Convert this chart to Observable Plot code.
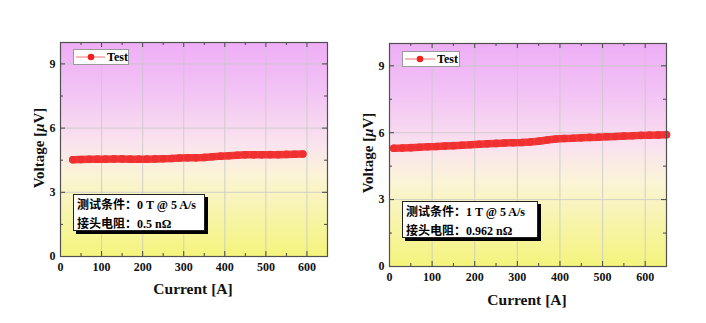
<!DOCTYPE html>
<html><head><meta charset="utf-8">
<script src="https://cdn.jsdelivr.net/npm/d3@7"></script>
<script src="https://cdn.jsdelivr.net/npm/@observablehq/plot@0.6"></script>
<style>
body{margin:0;background:#fff;}
#wrap{position:relative;width:706px;height:323px;overflow:hidden;}
.panel{position:absolute;top:0;}
.legend{position:absolute;background:#fff;border:1px solid #9a9a9a;font:bold 12px "Liberation Serif",serif;display:flex;align-items:center;box-sizing:border-box;}
.note{position:absolute;background:#fff;border:1px solid #222;box-shadow:3px 3px 0 #000;font:bold 12px "Liberation Serif","Noto Sans CJK SC",serif;line-height:18px;padding:0 3px;box-sizing:border-box;white-space:nowrap;}
.note .cjk{font-family:"Noto Sans CJK SC",sans-serif;font-weight:bold;}
</style>
</head><body>
<div id="wrap"></div>
<script>
// ---- data ----
const seriesName = "Test";
const currentL = [30,50,70,90,110,130,150,170,190,210,230,250,270,290,310,330,350,370,390,410,430,450,470,490,510,530,550,570,590];
const voltageL = [4.52,4.53,4.54,4.55,4.55,4.56,4.56,4.55,4.55,4.55,4.56,4.57,4.58,4.60,4.61,4.61,4.63,4.66,4.69,4.71,4.73,4.75,4.75,4.75,4.76,4.76,4.77,4.78,4.79];
const currentR = [10,30,50,70,90,110,130,150,170,190,210,230,250,270,290,310,330,350,370,390,410,430,450,470,490,510,530,550,570,590,610,630,650];
const voltageR = [5.30,5.31,5.33,5.35,5.37,5.38,5.40,5.42,5.44,5.46,5.48,5.50,5.52,5.54,5.55,5.56,5.58,5.62,5.67,5.72,5.74,5.75,5.77,5.79,5.80,5.82,5.83,5.85,5.86,5.88,5.89,5.90,5.91];
const xTicks = [0,100,200,300,400,500,600];
const xMinor = [50,150,250,350,450,550,650];
const yTicks = [0,3,6,9];
const yMinor = [1.5,4.5,7.5];
const notesL = ["测试条件：", "0 T @ 5 A/s", "接头电阻：", "0.5 nΩ"];
const notesR = ["测试条件：", "1 T @ 5 A/s", "接头电阻：", "0.962 nΩ"];
const xTitle = "Current [A]";

const wrap = document.getElementById("wrap");

function panel(cfg) {
  const {id, xs, ys, left, width, height, mL, mR, mT, mB} = cfg;
  const data = xs.map((x, i) => ({x, y: ys[i]}));
  const innerH = height - mT - mB, innerW = width - mL - mR;
  const defs = () => {
    const d = d3.create("svg:defs");
    const g = d.append("linearGradient").attr("id", id).attr("x1", 0).attr("x2", 0).attr("y1", 0).attr("y2", 1);
    [["0%","#eeaef6"],["22%","#f2c2f5"],["48%","#fae4ee"],["62%","#fbf4d6"],["100%","#f4f47c"]]
      .forEach(([o,c]) => g.append("stop").attr("offset", o).attr("stop-color", c));
    return d.node();
  };
  const plot = Plot.plot({
    width, height,
    marginLeft: mL, marginRight: mR, marginTop: mT, marginBottom: mB,
    style: {fontFamily: '"Liberation Serif", serif', fontSize: "12px", fontWeight: "bold", color: "#111", background: "transparent", overflow: "visible"},
    x: {domain: [0, 650]},
    y: {domain: [0, 10]},
    marks: [
      defs,
      Plot.frame({fill: `url(#${id})`}),
      Plot.ruleX(xTicks.slice(1), {stroke: "#c8c8c8", strokeWidth: 0.8}),
      Plot.ruleY(yTicks.slice(1), {stroke: "#c8c8c8", strokeWidth: 0.8}),
      // inward ticks
      Plot.ruleX(xTicks, {insetTop: innerH - 5, stroke: "#444"}),
      Plot.ruleX(xTicks, {insetBottom: innerH - 5, stroke: "#444"}),
      Plot.ruleX(xMinor, {insetTop: innerH - 3, stroke: "#444"}),
      Plot.ruleX(xMinor, {insetBottom: innerH - 3, stroke: "#444"}),
      Plot.ruleY(yTicks, {insetRight: innerW - 5, stroke: "#444"}),
      Plot.ruleY(yTicks, {insetLeft: innerW - 5, stroke: "#444"}),
      Plot.ruleY(yMinor, {insetRight: innerW - 3, stroke: "#444"}),
      Plot.ruleY(yMinor, {insetLeft: innerW - 3, stroke: "#444"}),
      Plot.axisX({ticks: xTicks, tickSize: 0, tickPadding: 6, label: null, fontWeight: "bold"}),
      Plot.axisY({ticks: yTicks, tickSize: 0, tickPadding: 5, label: null, fontWeight: "bold"}),
      Plot.line(data, {x: "x", y: "y", stroke: "#f23a3a", strokeWidth: 7.5, strokeLinecap: "round"}),
      Plot.dot(data, {x: "x", y: "y", r: 3.8, fill: "#f03030", stroke: "none"}),
      Plot.frame({stroke: "#505050", strokeWidth: 1.2})
    ]
  });
  plot.classList.add("panel");
  plot.style.left = left + "px";
  const svg = d3.select(plot);
  // y title
  const yt = svg.append("text")
    .attr("transform", `translate(${cfg.yTitleX},${cfg.yTitleY}) rotate(-90)`)
    .attr("text-anchor", "middle")
    .attr("font-family", '"Liberation Serif", serif').attr("font-weight", "bold").attr("font-size", 15).attr("fill", "#111");
  yt.append("tspan").text("Voltage [");
  yt.append("tspan").attr("font-style", "italic").text("μ");
  yt.append("tspan").text("V]");
  svg.append("text")
    .attr("x", cfg.xTitleX).attr("y", cfg.xTitleY)
    .attr("text-anchor", "middle")
    .attr("font-family", '"Liberation Serif", serif').attr("font-weight", "bold").attr("font-size", 15.5).attr("fill", "#111")
    .text(xTitle);
  wrap.appendChild(plot);

  // legend
  const lg = document.createElement("div");
  lg.className = "legend";
  Object.assign(lg.style, {left: cfg.lg[0] + "px", top: cfg.lg[1] + "px", width: cfg.lg[2] + "px", height: cfg.lg[3] + "px"});
  lg.innerHTML = `<svg width="30" height="12" style="margin:0 2px 0 2px"><line x1="0" x2="30" y1="6" y2="6" stroke="#f57070" stroke-width="1"/><circle cx="15" cy="6" r="3.3" fill="#f02020"/></svg><span>${seriesName}</span>`;
  wrap.appendChild(lg);

  // note
  const nt = document.createElement("div");
  nt.className = "note";
  Object.assign(nt.style, {left: cfg.nt[0] + "px", top: cfg.nt[1] + "px", width: cfg.nt[2] + "px", height: cfg.nt[3] + "px"});
  const n = cfg.notes;
  nt.innerHTML = `<div><span class="cjk">${n[0]}</span>${n[1]}</div><div><span class="cjk">${n[2]}</span>${n[3]}</div>`;
  wrap.appendChild(nt);
}

panel({id: "gL", xs: currentL, ys: voltageL, left: 0, width: 340, height: 310, mL: 60, mR: 13, mT: 42, mB: 54,
  yTitleX: 44, yTitleY: 148, xTitleX: 193, xTitleY: 294,
  lg: [73, 49, 56, 16], nt: [73, 194, 132, 37], notes: notesL});
panel({id: "gR", xs: currentR, ys: voltageR, left: 340, width: 366, height: 310, mL: 49, mR: 40, mT: 43, mB: 44,
  yTitleX: 33, yTitleY: 153, xTitleX: 187, xTitleY: 305,
  lg: [402, 51, 58, 16], nt: [402, 201, 136, 37], notes: notesR});
</script>
</body></html>
